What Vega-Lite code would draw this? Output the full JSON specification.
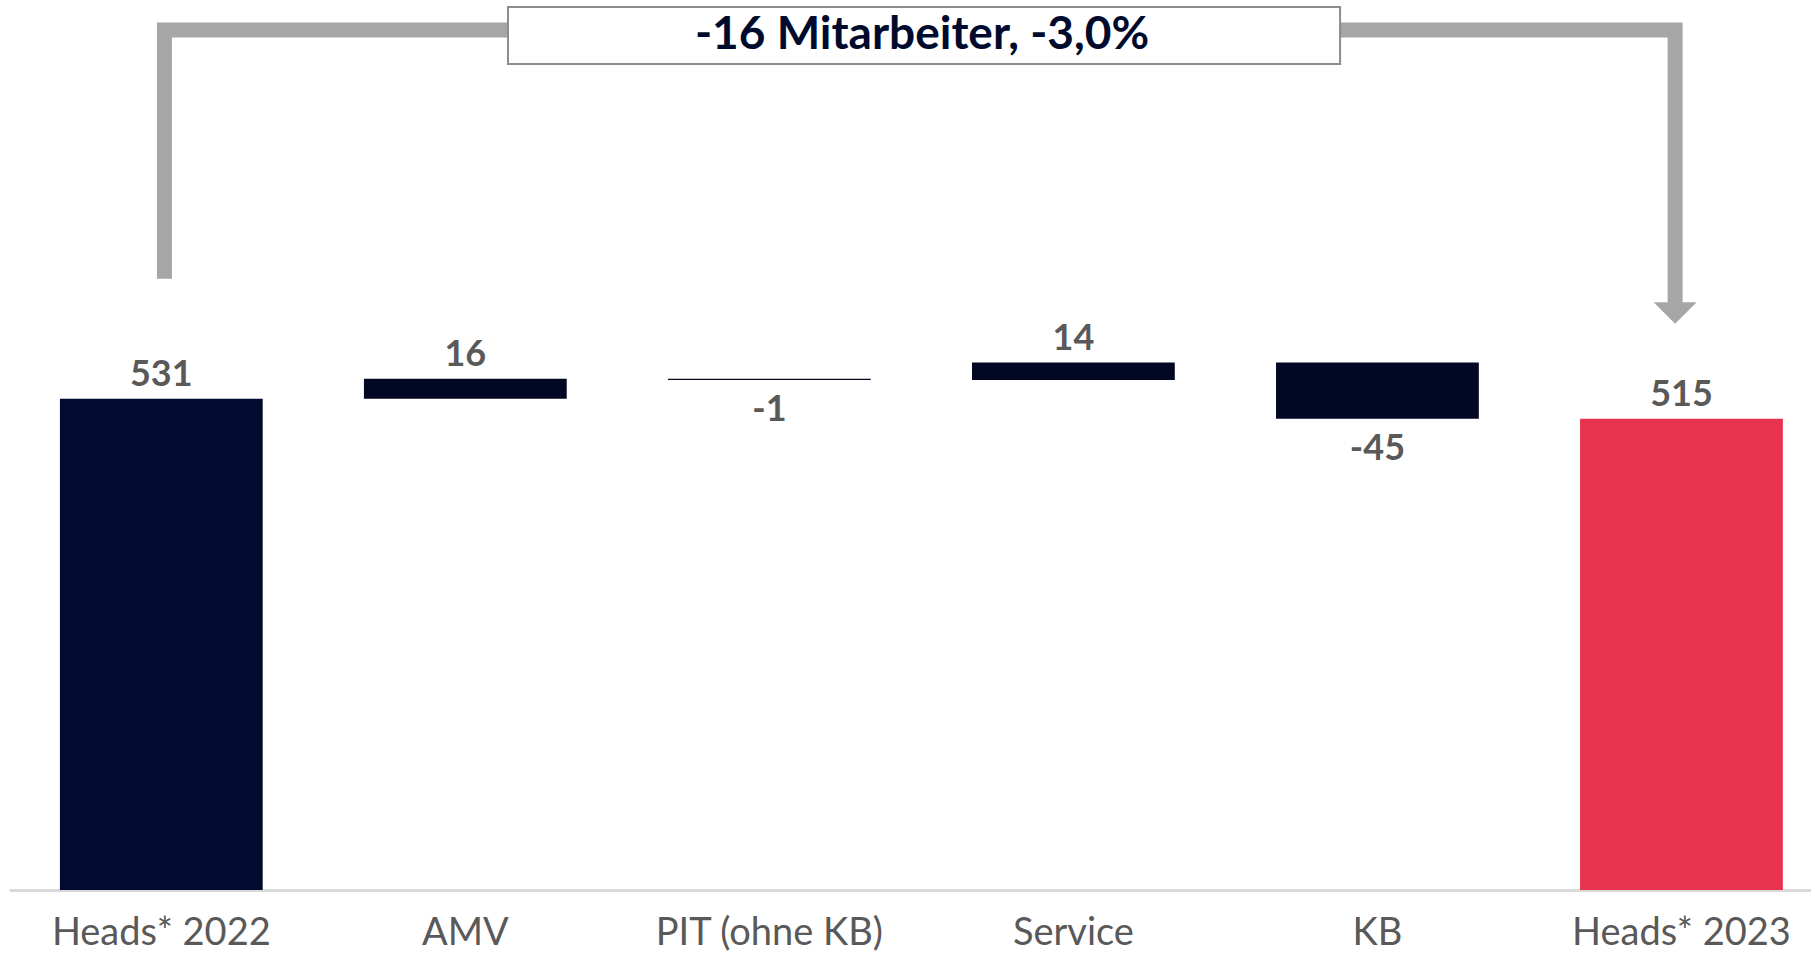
{
  "$schema": "https://vega.github.io/schema/vega-lite/v6.json",
  "width": 1802,
  "height": 889,
  "padding": {"left": 9, "top": 0, "right": 0, "bottom": 0},
  "autosize": {"type": "pad"},
  "background": "white",
  "config": {"view": {"stroke": null}},
  "datasets": {
    "steps": [
      {"cat": "Heads* 2022", "kind": "total", "value": 531, "lbl": "531", "start": 0, "end": 531},
      {"cat": "AMV", "kind": "delta", "value": 16, "lbl": "16", "start": 531, "end": 547},
      {"cat": "PIT (ohne KB)", "kind": "delta", "value": -1, "lbl": "-1", "start": 547, "end": 546},
      {"cat": "Service", "kind": "delta", "value": 14, "lbl": "14", "start": 546, "end": 560},
      {"cat": "KB", "kind": "delta", "value": -45, "lbl": "-45", "start": 560, "end": 515},
      {"cat": "Heads* 2023", "kind": "total2", "value": 515, "lbl": "515", "start": 0, "end": 515}
    ],
    "bracket": [
      {"xi": 0.01, "yv": 627, "o": 1},
      {"xi": 0.01, "yv": 826, "o": 2},
      {"xi": 4.979, "yv": 826, "o": 3},
      {"xi": 4.979, "yv": 606, "o": 4}
    ],
    "arrowhead": [{"xi": 4.979, "yv": 599.6}],
    "box": [{"x1": 1.14, "x2": 3.877, "y1": 798.8, "y2": 844.4, "xc": 2.502, "yc": 822, "txt": "-16 Mitarbeiter, -3,0%"}]
  },
  "layer": [
    {
      "data": {"name": "steps"},
      "mark": {"type": "bar", "clip": true},
      "encoding": {
        "x": {
          "field": "cat", "type": "nominal", "sort": null,
          "scale": {"type": "band", "domain": ["Heads* 2022", "AMV", "PIT (ohne KB)", "Service", "KB", "Heads* 2023"], "paddingInner": 0.333, "paddingOuter": 0.13, "align": 0.644},
          "axis": {
            "title": null, "labelAngle": 0, "ticks": false, "labelLimit": 0,
            "domainColor": "#D9D9D9", "domainWidth": 3,
            "labelFont": "Lato", "labelFontSize": 38, "labelColor": "#595959",
            "labelPadding": 24
          }
        },
        "y": {"field": "start", "type": "quantitative", "scale": {"domain": [138, 849.2], "nice": false, "zero": false}, "axis": null},
        "y2": {"field": "end"},
        "color": {"field": "kind", "type": "nominal", "scale": {"domain": ["total", "delta", "total2"], "range": ["#010B30", "#020824", "#E8334F"]}, "legend": null}
      }
    },
    {
      "data": {"name": "steps"},
      "transform": [{"filter": "datum.value >= 0"}],
      "mark": {"type": "text", "font": "Lato", "fontWeight": "bold", "fontSize": 36, "color": "#595959", "baseline": "alphabetic", "dy": -13},
      "encoding": {
        "x": {"field": "cat", "type": "nominal", "sort": null, "bandPosition": 0.5, "scale": {"type": "band", "domain": ["Heads* 2022", "AMV", "PIT (ohne KB)", "Service", "KB", "Heads* 2023"], "paddingInner": 0.333, "paddingOuter": 0.13, "align": 0.644}, "axis": null},
        "y": {"field": "end", "type": "quantitative", "scale": {"domain": [138, 849.2], "nice": false, "zero": false}, "axis": null},
        "text": {"field": "lbl"}
      }
    },
    {
      "data": {"name": "steps"},
      "transform": [{"filter": "datum.value < 0"}],
      "mark": {"type": "text", "font": "Lato", "fontWeight": "bold", "fontSize": 36, "color": "#595959", "baseline": "alphabetic", "dy": 41},
      "encoding": {
        "x": {"field": "cat", "type": "nominal", "sort": null, "bandPosition": 0.5, "scale": {"type": "band", "domain": ["Heads* 2022", "AMV", "PIT (ohne KB)", "Service", "KB", "Heads* 2023"], "paddingInner": 0.333, "paddingOuter": 0.13, "align": 0.644}, "axis": null},
        "y": {"field": "end", "type": "quantitative", "scale": {"domain": [138, 849.2], "nice": false, "zero": false}, "axis": null},
        "text": {"field": "lbl"}
      }
    },
    {
      "data": {"name": "bracket"},
      "mark": {"type": "line", "color": "#A6A6A6", "strokeWidth": 15, "strokeJoin": "miter", "strokeCap": "butt"},
      "encoding": {
        "x": {"field": "xi", "type": "quantitative", "scale": {"domain": [-0.5013, 5.426], "nice": false, "zero": false}, "axis": null},
        "y": {"field": "yv", "type": "quantitative", "scale": {"domain": [138, 849.2], "nice": false, "zero": false}, "axis": null},
        "order": {"field": "o", "type": "quantitative"}
      }
    },
    {
      "data": {"name": "arrowhead"},
      "mark": {"type": "point", "shape": "M-1,-0.5L1,-0.5L0,0.5Z", "size": 1849, "filled": true, "color": "#A6A6A6", "opacity": 1},
      "encoding": {
        "x": {"field": "xi", "type": "quantitative", "scale": {"domain": [-0.5013, 5.426], "nice": false, "zero": false}, "axis": null},
        "y": {"field": "yv", "type": "quantitative", "scale": {"domain": [138, 849.2], "nice": false, "zero": false}, "axis": null}
      }
    },
    {
      "data": {"name": "box"},
      "mark": {"type": "rect", "fill": "white", "stroke": "#8C8C8C", "strokeWidth": 2},
      "encoding": {
        "x": {"field": "x1", "type": "quantitative", "scale": {"domain": [-0.5013, 5.426], "nice": false, "zero": false}, "axis": null},
        "x2": {"field": "x2"},
        "y": {"field": "y1", "type": "quantitative", "scale": {"domain": [138, 849.2], "nice": false, "zero": false}, "axis": null},
        "y2": {"field": "y2"}
      }
    },
    {
      "data": {"name": "box"},
      "mark": {"type": "text", "font": "Lato", "fontWeight": "bold", "fontSize": 46, "color": "#000A2C", "baseline": "middle", "align": "center"},
      "encoding": {
        "x": {"field": "xc", "type": "quantitative", "scale": {"domain": [-0.5013, 5.426], "nice": false, "zero": false}, "axis": null},
        "y": {"field": "yc", "type": "quantitative", "scale": {"domain": [138, 849.2], "nice": false, "zero": false}, "axis": null},
        "text": {"field": "txt"}
      }
    }
  ],
  "resolve": {"scale": {"x": "independent"}}
}
